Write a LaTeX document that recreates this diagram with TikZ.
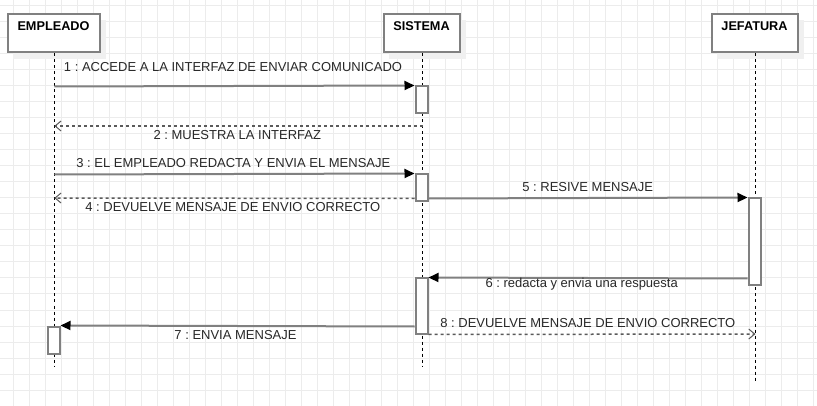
\documentclass[tikz,border=0pt]{standalone}
\usepackage{fontspec}
\setmainfont{Liberation Sans}
\frenchspacing
\usetikzlibrary{arrows.meta}
\definecolor{gridc}{RGB}{236,236,236}
\definecolor{edge}{RGB}{128,128,128}
\definecolor{dashc}{RGB}{90,90,90}
\definecolor{txt}{RGB}{40,40,40}
\definecolor{shad}{RGB}{240,240,240}
\tikzset{
  actor/.style={draw=edge, line width=2pt, fill=white, inner sep=0pt,
    minimum height=38pt, font=\fontsize{12.7}{14}\selectfont\bfseries, text=black},
  actorshadow/.style={fill=shad, draw=none},
  actbox/.style={draw=edge, line width=2pt, fill=white, inner sep=0pt, minimum width=12pt},
  lifeline/.style={draw=black, line width=1pt, dash pattern=on 3pt off 3pt},
  msg/.style={draw=edge, line width=2pt, -{Triangle[length=10pt,width=9pt,fill=black,color=black]}},
  ret/.style={draw=dashc, line width=1.5pt, dash pattern=on 3pt off 3pt, -{Straight Barb[length=6pt,width=10pt,line width=1pt,color=dashc]}},
  lbl/.style={font=\fontsize{13}{15}\selectfont, text=txt, inner sep=0pt},
  hdr/.style={font=\fontsize{12.7}{14}\selectfont\bfseries, text=black, inner sep=0pt}
}
\begin{document}
\begin{tikzpicture}[x=1pt,y=-1pt]
\useasboundingbox (0,0) rectangle (817,406);
\fill[white] (0,0) rectangle (817,406);
% grid
\foreach \i in {0,...,50} {\draw[gridc, line width=1pt] ({13.3+16*\i},0) -- ({13.3+16*\i},406);}
\foreach \j in {0,...,25} {\draw[gridc, line width=1pt] (0,{6+16*\j}) -- (817,{6+16*\j});}
% shadows
\fill[actorshadow] (13,20) rectangle (106,59);
\fill[actorshadow] (389,20) rectangle (466,59);
\fill[actorshadow] (717,20) rectangle (804,59);
% actor boxes
\node[actor, minimum width=92pt] (emp) at (53.5,33.5) {};
\node[hdr] (empt) at (53.5,26) {EMPLEADO};
\node[actor, minimum width=76pt] (sis) at (421.5,33.5) {};
\node[hdr] (sist) at (421.5,26) {SISTEMA};
\node[actor, minimum width=86pt] (jef) at (754.5,33.5) {};
\node[hdr] (jeft) at (754.5,26) {JEFATURA};
% lifeline coordinates
\coordinate (eTop) at (54.3,53.5);
\coordinate (eBot) at (54.3,367);
\coordinate (sTop) at (422.5,53.5);
\coordinate (sBot) at (422.5,367);
\coordinate (jTop) at (755.5,53.5);
\coordinate (jBot) at (755.5,381);
\draw[lifeline] (eTop) -- (eBot);
\draw[lifeline] (sTop) -- (sBot);
\draw[lifeline] (jTop) -- (jBot);
% activation boxes
\node[actbox, minimum height=27pt] (a1) at (421.5,100) {};
\node[actbox, minimum height=27pt] (a2) at (421.5,188) {};
\node[actbox, minimum height=87pt] (aj) at (754.5,242) {};
\node[actbox, minimum height=55pt] (a3) at (421.5,306) {};
\node[actbox, minimum height=27pt] (ae) at (53.5,340) {};
% message points on lifelines
\coordinate (e1) at (54.3,86.5);
\coordinate (e2) at (54.3,126);
\coordinate (s2) at (422.5,126);
\coordinate (e3) at (54.3,174.5);
\coordinate (e4) at (54.3,198);
\coordinate (j8) at (755.5,334);
% messages
\draw[msg] (e1) -- (a1.north west);
\draw[ret] (s2) -- (e2);
\draw[msg] (e3) -- (a2.north west);
\draw[ret] ([yshift=4pt]a2.south west) -- (e4);
\draw[msg] ([yshift=4pt]a2.south east) -- (aj.north west);
\draw[msg] ([yshift=8pt]aj.south west) -- (a3.north east);
\draw[msg] ([yshift=8pt]a3.south west) -- (ae.north east);
\draw[ret] (a3.south east) -- (j8);
% labels
\node[lbl] (l1) at (233,67.3) {1 : ACCEDE A LA INTERFAZ DE ENVIAR COMUNICADO};
\node[lbl] (l2) at (237.3,135) {2 : MUESTRA LA INTERFAZ};
\node[lbl] (l3) at (233.3,163.3) {3 : EL EMPLEADO REDACTA Y ENVIA EL MENSAJE};
\node[lbl] (l4) at (232.8,207.3) {4 : DEVUELVE MENSAJE DE ENVIO CORRECTO};
\node[lbl] (l5) at (587.7,187.3) {5 : RESIVE MENSAJE};
\node[lbl] (l6) at (581.7,284) {6 : redacta y envia una respuesta};
\node[lbl] (l7) at (235.5,335.3) {7 : ENVIA MENSAJE};
\node[lbl] (l8) at (587.8,322.7) {8 : DEVUELVE MENSAJE DE ENVIO CORRECTO};
\end{tikzpicture}
\end{document}
